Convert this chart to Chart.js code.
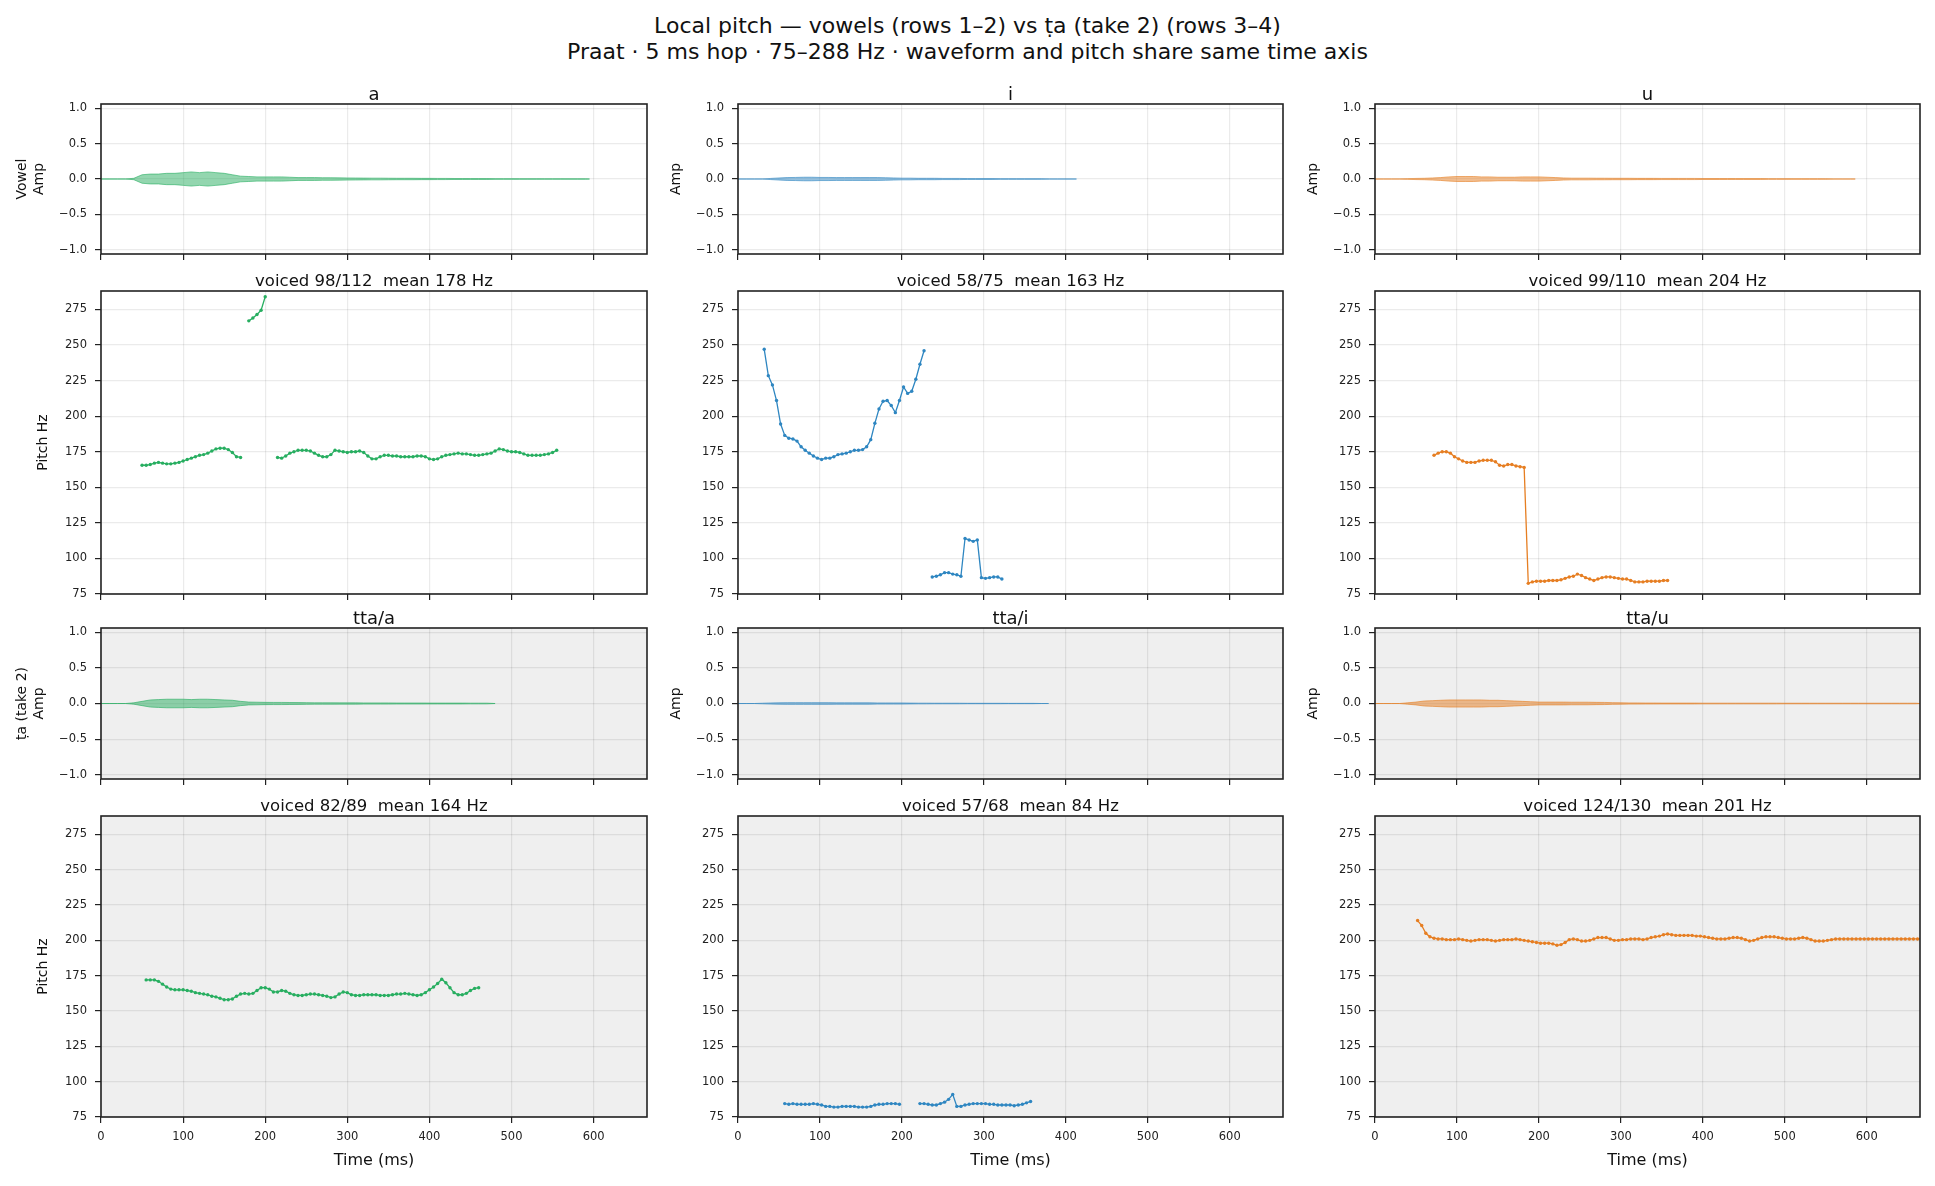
<!DOCTYPE html>
<html>
<head>
<meta charset="utf-8">
<script src="https://cdn.jsdelivr.net/npm/chart.js@4.4.1/dist/chart.umd.min.js"></script>
<style>
  body { margin: 0; background: #fff; width: 1935px; height: 1186px; position: relative; overflow: hidden;
         font-family: "DejaVu Sans", sans-serif; color: #111; }
  .t { position: absolute; white-space: pre; line-height: 1; transform: translateX(-50%); }
  canvas { position: absolute; }
</style>
</head>
<body>
<div class="t" style="left:967.5px; top:14.7px; font-size:22px;">Local pitch — vowels (rows 1–2) vs ṭa (take 2) (rows 3–4)</div>
<div class="t" style="left:967.5px; top:40.7px; font-size:22px;">Praat · 5 ms hop · 75–288 Hz · waveform and pitch share same time axis</div>
<script>
// ---- data ----
const HOP_MS = 5;
const ENV_STEP_MS = 10;
const X_MAX_MS = 665;
const PITCH_MIN = 75, PITCH_MAX = 288;
const AMP_LIM = 1.06;

const timeTicks = [0, 100, 200, 300, 400, 500, 600];
const pitchTicks = [75, 100, 125, 150, 175, 200, 225, 250, 275];
const ampTicks = [-1, -0.5, 0, 0.5, 1];

const vowelNames = ['a', 'i', 'u'];
const taNames = ['tta/a', 'tta/i', 'tta/u'];
const vowelStats = ['voiced 98/112  mean 178 Hz', 'voiced 58/75  mean 163 Hz', 'voiced 99/110  mean 204 Hz'];
const taStats = ['voiced 82/89  mean 164 Hz', 'voiced 57/68  mean 84 Hz', 'voiced 124/130  mean 201 Hz'];
const seriesColors = ['#27ae60', '#2e86c1', '#e67e22'];

// waveform amplitude envelopes, one value every ENV_STEP_MS from 0 ms
const envVowelA = [0,0,0,0,0.01, 0.06,0.07,0.07,0.08,0.08, 0.09,0.10,0.09,0.10,0.09, 0.08,0.06,0.04,0.035,0.03,
  0.03,0.03,0.03,0.025,0.02, 0.02,0.02,0.018,0.018,0.016, 0.015,0.014,0.013,0.012,0.012, 0.011,0.01,0.01,0.01,0.009,
  0.009,0.008,0.008,0.007,0.007, 0.006,0.006,0.006,0.005,0.005, 0.005,0.004,0.004,0.004,0.003, 0.003,0.003,0.002,0.002,0.002];
const envVowelI = [0,0,0,0,0.008, 0.015,0.02,0.022,0.025,0.025, 0.022,0.022,0.02,0.02,0.02, 0.02,0.02,0.02,0.018,0.015,
  0.012,0.012,0.01,0.01,0.01, 0.008,0.008,0.008,0.006,0.006, 0.006,0.006,0.005,0.005,0.005, 0.005,0.005,0.004,0,0, 0,0];
const envVowelU = [0,0,0,0,0.005, 0.008,0.01,0.015,0.02,0.03, 0.035,0.035,0.035,0.03,0.03, 0.025,0.025,0.025,0.03,0.03,
  0.03,0.025,0.02,0.015,0.012, 0.012,0.012,0.011,0.011,0.01, 0.01,0.01,0.009,0.009,0.009, 0.008,0.008,0.008,0.008,0.008,
  0.007,0.007,0.007,0.007,0.006, 0.006,0.006,0.006,0.005,0.005, 0.005,0.004,0.004,0.004,0.004, 0.003,0,0,0];
const envTaA = [0,0,0,0,0.01, 0.03,0.05,0.055,0.06,0.06, 0.06,0.055,0.06,0.06,0.055, 0.05,0.045,0.03,0.02,0.018,
  0.016,0.015,0.015,0.014,0.013, 0.012,0.01,0.01,0.01,0.009, 0.009,0.009,0.008,0.008,0.008, 0.008,0.007,0.007,0.007,0.007,
  0.006,0.006,0.006,0.006,0.006, 0.005,0.005,0.005,0];
const envTaI = [0,0,0,0.004,0.008, 0.01,0.012,0.012,0.012,0.012, 0.012,0.012,0.01,0.01,0.01, 0.01,0.01,0.008,0.008,0.008,
  0.008,0.006,0.005,0.005,0.004, 0.004,0.004,0.004,0.003,0.003, 0.003,0.003,0.003,0.002,0.002, 0.002,0.002,0];
const envTaU = [0,0,0,0,0.01, 0.02,0.035,0.04,0.045,0.05, 0.05,0.05,0.05,0.05,0.045, 0.045,0.04,0.035,0.03,0.025,
  0.02,0.02,0.02,0.02,0.018, 0.018,0.018,0.016,0.015,0.012, 0.01,0.008,0.008,0.007,0.007, 0.006,0.006,0.006,0.006,0.006,
  0.005,0.005,0.005,0.005,0.005, 0.005,0.005,0.005,0.005,0.005, 0.004,0.004,0.004,0.004,0.004, 0.004,0.004,0.004,0.004,0.004,
  0.004,0.004,0.004,0.004,0.004, 0.004,0.004];
const durVowel = [595, 413, 586];
const durTa = [480, 379, 665];

// pitch tracks (Hz), one value every HOP_MS from the start time; null = unvoiced
const pitchStartVowelA = 50;
const pitchVowelA = [165.5,165.5,166,167,167.5,167,166.5,166.5,167,167.5,168.5,169.5,170.5,171.5,172.5,173,174,175.5,177,177.5,
  177.5,176.5,174.5,171.5,171, null,
  267,269,271.5,274.5,284, null,null,
  171,170.5,172,174,175,176,176,176,175.5,174, 172.5,171.5,171.5,173,176,175.5,175,174.5,175,175,
  175.5,174.5,172,170,170,171.5,172.5,172.5,172,172, 171.5,171.5,171.5,171.5,172,172,171.5,170,169.5,170,
  171.5,172.5,173,173.5,174,173.5,173.5,173,172.5,172.5, 173,173.5,174,175.5,177,176.5,175.5,175,175,174.5,
  173.5,172.5,172.5,172.5,172.5,173,173.5,174.5,176];
const pitchStartVowelI = 32;
const pitchVowelI = [247,228.5,222,211,194.5,186.5,184.5,184,182.5,178.5, 176,174,172,170.5,169.5,170.5,170.5,171.5,173,173.5,
  174,175,176,176,176.5,178.5,183.5,195,205,210.5, 211,207.5,202.5,211,220.5,216,217.5,226,236.5,246, null,
  87,87.5,88.5,90,90,89,88.5,87.5,114,113,112,113,86.5,86,86.5,87,87,85.5];
const pitchStartVowelU = 72;
const pitchVowelU = [172.5,174,175,175,174,171.5,170,168.5,167.5,167.5, 167.5,168.5,169,169,169,168,165.5,165,166,166,
  165,164.5,164,
  82.5,83.5,84,84,84,84.5,84.5,84.5,85,86, 87,87.5,89,88,86.5,85.5,84.5,85.5,86.5,87, 87,86.5,86,85.5,85.5,84.5,83.5,83.5,83.5,84,
  84,84,84,84.5,84.5];
const pitchStartTaA = 55;
const pitchTaA = [172,172,172,171,169,167,165.5,165,165,165, 164.5,164,163,162.5,162,161.5,160.5,160,159,158,
  158,158.5,160.5,162,162.5,162,162.5,164.5,166.5,166.5, 165.5,163.5,163.5,164.5,164,162.5,161.5,161,161,161.5,
  162,162,161.5,161,160.5,159.5,160,162,163.5,163, 161.5,161,161,161.5,161.5,161.5,161.5,161,161,161,
  161.5,162,162,162.5,162,161.5,161,161.5,163,165, 167,169.5,172.5,170,166.5,163,161.5,161.5,162.5,164.5,
  166,166.5];
const pitchStartTaI = 57;
const pitchTaI = [84.5,84,84.5,84,84,84,84,84.5,84,83.5, 82.5,82.5,82,82,82.5,82.5,82.5,82.5,82,82, 82,82.5,83.5,84,84,84.5,84.5,84.5,84,
  null,null,null,null,
  84.5,84.5,84,83.5,83.5,84.5,85.5,87.5,91,82.5, 82.5,83.5,84,84.5,84.5,84.5,84.5,84,84,83.5, 83.5,83.5,83.5,83,83.5,84,85,86];
const pitchStartTaU = 52;
const pitchTaU = [214,210.5,205,202.5,201.5,201,201,200.5,200.5,200.5, 201,200.5,200,199.5,200,200.5,200.5,200.5,200,199.5,
  200,200.5,200.5,200.5,201,200.5,200,199.5,199,198.5, 198,198,198,197.5,196.5,197,198.5,200.5,201,200.5,
  199.5,199.5,200,201,202,202,202,201,200,200, 200.5,200.5,201,201,201,200.5,201,202,202.5,203,
  204,204.5,204,203.5,203.5,203.5,203.5,203.5,203,203, 202.5,202,201.5,201,201,201,201.5,202,202,201.5,
  200.5,199.5,200,201,202,202.5,202.5,202.5,202,201.5, 201,201,201,201.5,202,201.5,200.5,199.5,199.5,199.5,
  200,200.5,201,201,201,201,201,201,201,201, 201,201,201,201,201,201,201,201,201,201, 201,201,201,201];

// ---- layout ----
const colLeft = [101, 738, 1375], colRight = [647, 1283, 1920];
const rowTop = [104, 291, 628, 816], rowBottom = [254, 594, 779, 1117];
const Y_AXIS_W = 100, PAD_T = 20, PAD_R = 8;
const GRID = 'rgba(0,0,0,0.08)';
const YLABEL_SIZE = 14, YLABEL_LH = YLABEL_SIZE * 1.2;

Chart.defaults.font.family = '"DejaVu Sans", sans-serif';

function rgba(hex, a) {
  const n = parseInt(hex.slice(1), 16);
  return `rgba(${n >> 16},${(n >> 8) & 255},${n & 255},${a})`;
}

function pitchPoints(start, values) {
  return values.map((v, i) => ({ x: start + i * HOP_MS, y: v }));
}

function envelopePoints(env, dur, sign) {
  const pts = env.map((v, i) => ({ x: i * ENV_STEP_MS, y: sign * v }));
  pts.push({ x: dur, y: 0 });
  return pts;
}

function addText(txt, cx, baseline, size) {
  const d = document.createElement('div');
  d.className = 't';
  d.textContent = txt;
  d.style.fontSize = size + 'px';
  d.style.left = cx + 'px';
  d.style.top = (baseline - 0.846 * size) + 'px';
  document.body.appendChild(d);
}

// axes frame + optional face colour
const framePlugin = {
  id: 'frame',
  beforeDraw(chart, args, opts) {
    if (!opts.bg) return;
    const a = chart.chartArea, ctx = chart.ctx;
    ctx.save();
    ctx.fillStyle = opts.bg;
    ctx.fillRect(a.left, a.top, a.right - a.left, a.bottom - a.top);
    ctx.restore();
  },
  afterDraw(chart) {
    const a = chart.chartArea, ctx = chart.ctx;
    ctx.save();
    ctx.strokeStyle = '#222';
    ctx.lineWidth = 1.6;
    ctx.strokeRect(a.left, a.top, a.right - a.left, a.bottom - a.top);
    ctx.restore();
  }
};

function makePanel(row, col, cfg) {
  const left = colLeft[col], right = colRight[col], top = rowTop[row], bottom = rowBottom[row];
  const showX = row === 3;
  const xAxisH = showX ? 60 : 20;

  const cv = document.createElement('canvas');
  cv.width = Y_AXIS_W + right - left + PAD_R;
  cv.height = PAD_T + bottom - top + xAxisH;
  cv.style.left = (left - Y_AXIS_W) + 'px';
  cv.style.top = (top - PAD_T) + 'px';
  document.body.appendChild(cv);

  addText(cfg.title, (left + right) / 2, top - 4, cfg.titleSize);

  const yLines = cfg.yTitle ? [].concat(cfg.yTitle) : [];
  const yPadTop = Y_AXIS_W - cfg.yGap - YLABEL_LH / 2 - (yLines.length - 1) * YLABEL_LH;

  new Chart(cv, {
    type: 'line',
    data: { datasets: cfg.datasets },
    plugins: [framePlugin],
    options: {
      responsive: false,
      animation: false,
      events: [],
      layout: { padding: { top: PAD_T, right: PAD_R, left: 0, bottom: 0 } },
      plugins: {
        legend: { display: false },
        tooltip: { enabled: false },
        frame: { bg: row >= 2 ? '#efefef' : null }
      },
      scales: {
        x: {
          type: 'linear', min: 0, max: X_MAX_MS,
          afterBuildTicks: s => { s.ticks = timeTicks.map(v => ({ value: v })); },
          afterFit: s => { s.height = xAxisH; },
          ticks: { display: showX, autoSkip: false, maxRotation: 0, padding: 7, color: '#222', font: { size: 11.5 } },
          grid: { color: GRID, lineWidth: 1.2, tickLength: 6, tickColor: '#222', tickWidth: 1.2 },
          border: { display: false },
          title: { display: showX, text: 'Time (ms)', color: '#111', font: { size: 16 }, padding: { top: 0, bottom: 7 } }
        },
        y: {
          type: 'linear', min: cfg.yMin, max: cfg.yMax,
          afterBuildTicks: s => { s.ticks = cfg.yTicks.map(v => ({ value: v })); },
          afterFit: s => { s.width = Y_AXIS_W; },
          ticks: { autoSkip: false, padding: 8, color: '#222', font: { size: 11.5 }, callback: cfg.yFmt },
          grid: { color: GRID, lineWidth: 1.2, tickLength: 6, tickColor: '#222', tickWidth: 1.2 },
          border: { display: false },
          title: { display: yLines.length > 0, text: yLines.length > 1 ? yLines : yLines[0], color: '#111',
                   font: { size: YLABEL_SIZE, lineHeight: 1.2 }, padding: { top: yPadTop, bottom: 0 } }
        }
      }
    }
  });
}

function waveformSets(env, dur, color) {
  return [
    { data: envelopePoints(env, dur, 1), borderColor: rgba(color, 0.6), borderWidth: 1,
      backgroundColor: rgba(color, 0.5), fill: '+1', pointRadius: 0, tension: 0 },
    { data: envelopePoints(env, dur, -1), borderColor: rgba(color, 0.6), borderWidth: 1,
      fill: false, pointRadius: 0, tension: 0 }
  ];
}

function pitchSet(start, values, color) {
  return [{ data: pitchPoints(start, values), borderColor: color, backgroundColor: color, borderWidth: 1.3,
            pointRadius: 1.7, pointBorderWidth: 0, pointHoverRadius: 0, spanGaps: false, tension: 0 }];
}

const ampFmt = v => v.toFixed(1).replace('-', '\u2212');
const hzFmt = v => String(v);

const vowelEnvs = [envVowelA, envVowelI, envVowelU];
const taEnvs = [envTaA, envTaI, envTaU];
const vowelPitch = [[pitchStartVowelA, pitchVowelA], [pitchStartVowelI, pitchVowelI], [pitchStartVowelU, pitchVowelU]];
const taPitch = [[pitchStartTaA, pitchTaA], [pitchStartTaI, pitchTaI], [pitchStartTaU, pitchTaU]];

for (let c = 0; c < 3; c++) {
  const col = seriesColors[c];
  makePanel(0, c, {
    title: vowelNames[c], titleSize: 18,
    datasets: waveformSets(vowelEnvs[c], durVowel[c], col),
    yMin: -AMP_LIM, yMax: AMP_LIM, yTicks: ampTicks, yFmt: ampFmt,
    yTitle: c === 0 ? ['Vowel', 'Amp'] : 'Amp', yGap: 62
  });
  makePanel(1, c, {
    title: vowelStats[c], titleSize: 16.5,
    datasets: pitchSet(vowelPitch[c][0], vowelPitch[c][1], col),
    yMin: PITCH_MIN, yMax: PITCH_MAX, yTicks: pitchTicks, yFmt: hzFmt,
    yTitle: c === 0 ? 'Pitch Hz' : null, yGap: 58
  });
  makePanel(2, c, {
    title: taNames[c], titleSize: 18,
    datasets: waveformSets(taEnvs[c], durTa[c], col),
    yMin: -AMP_LIM, yMax: AMP_LIM, yTicks: ampTicks, yFmt: ampFmt,
    yTitle: c === 0 ? ['\u1E6Da (take 2)', 'Amp'] : 'Amp', yGap: 62
  });
  makePanel(3, c, {
    title: taStats[c], titleSize: 16.5,
    datasets: pitchSet(taPitch[c][0], taPitch[c][1], col),
    yMin: PITCH_MIN, yMax: PITCH_MAX, yTicks: pitchTicks, yFmt: hzFmt,
    yTitle: c === 0 ? 'Pitch Hz' : null, yGap: 58
  });
}
</script>
</body>
</html>
